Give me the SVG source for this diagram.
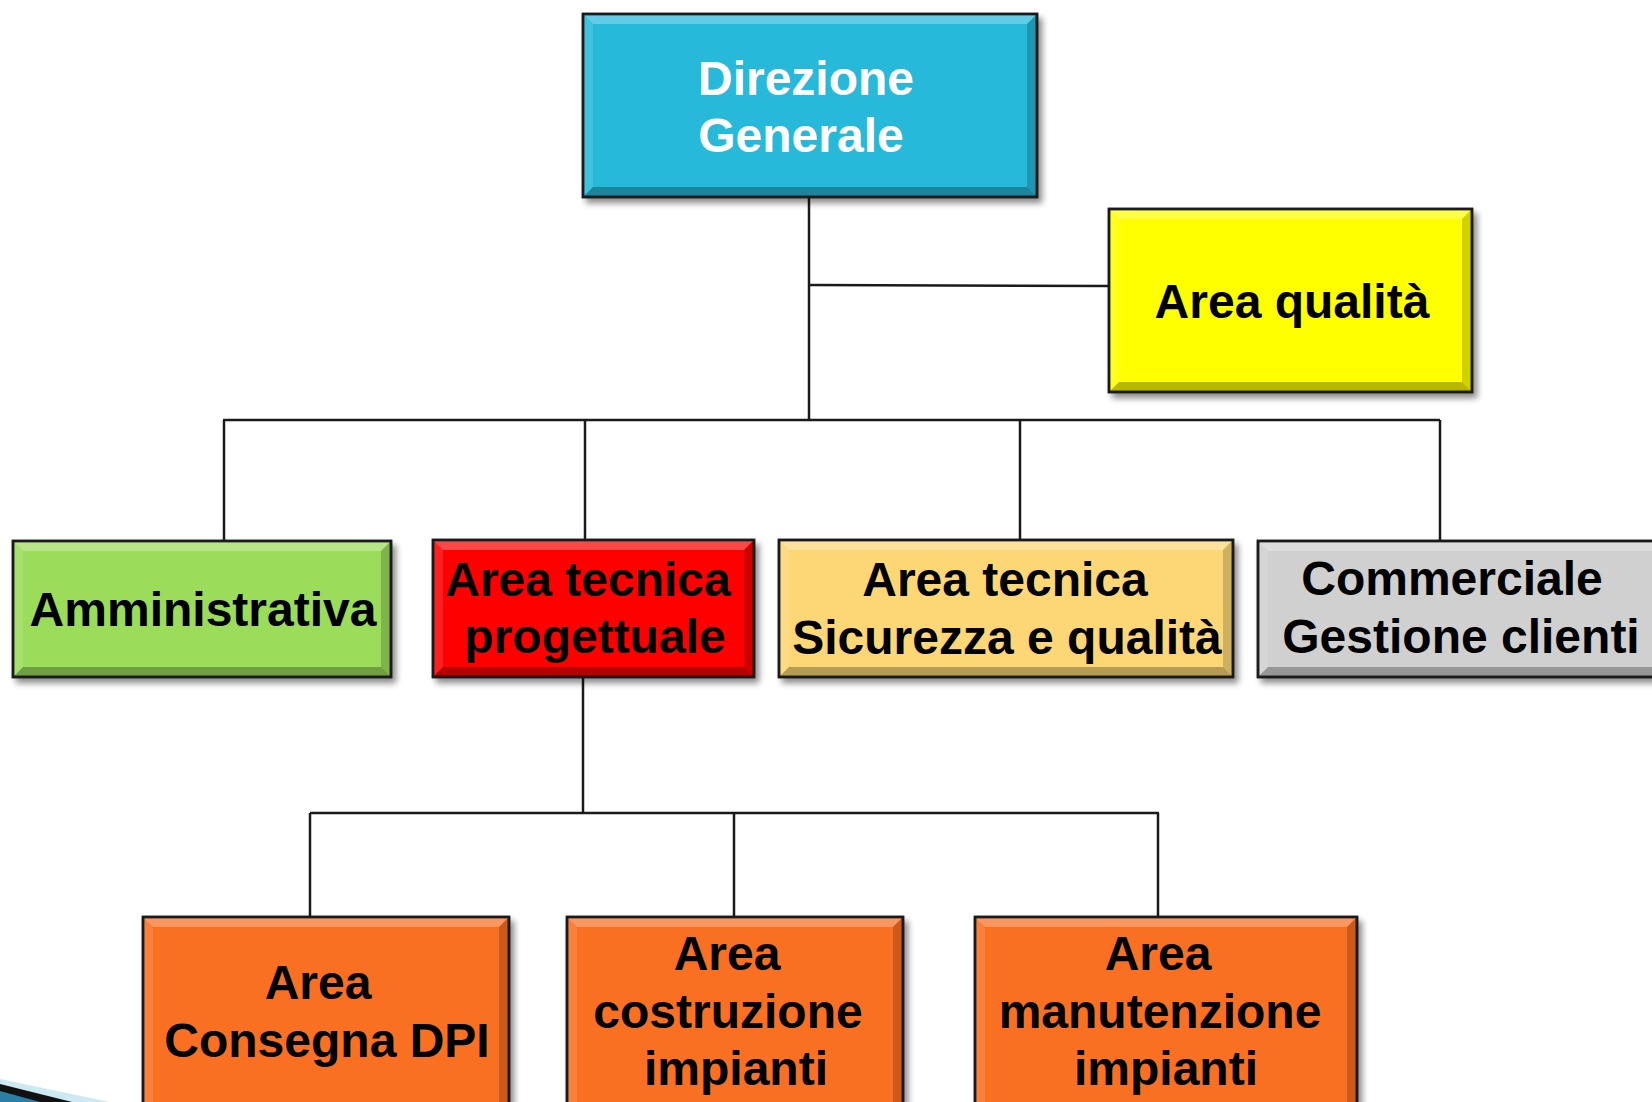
<svg xmlns="http://www.w3.org/2000/svg" width="1652" height="1102" viewBox="0 0 1652 1102">
<defs>
<filter id="sh" x="-10%" y="-10%" width="125%" height="130%">
<feGaussianBlur in="SourceAlpha" stdDeviation="3"/>
<feOffset dx="4" dy="5" result="b"/>
<feComponentTransfer><feFuncA type="linear" slope="0.45"/></feComponentTransfer>
<feMerge><feMergeNode/><feMergeNode in="SourceGraphic"/></feMerge>
</filter>
</defs>
<style>
.box{stroke:#1a1a1a;stroke-width:2.5;filter:url(#sh)}
.hi{fill:#ffffff;fill-opacity:0.28}
.hl{fill:#ffffff;fill-opacity:0.12}
.lo{fill:#000000;fill-opacity:0.28}
.lr{fill:#000000;fill-opacity:0.18}
.frame{fill:none;stroke:#1a1a1a;stroke-width:2.5}
text{font-family:"Liberation Sans",Arial,sans-serif;font-weight:bold;font-size:48px;text-anchor:middle;fill:#000}
.w{fill:#ffffff}
.conn line{stroke:#1a1a1a;stroke-width:2.5}
</style>
<rect width="1652" height="1102" fill="#ffffff"/>

<g class="conn" id="connectors">
<line x1="809" y1="197" x2="809" y2="420"/>
<line x1="809" y1="285" x2="1109" y2="286"/>
<line x1="223" y1="420" x2="1440" y2="420"/>
<line x1="224" y1="420" x2="224" y2="541"/>
<line x1="585" y1="420" x2="585" y2="540"/>
<line x1="1020" y1="420" x2="1020" y2="540"/>
<line x1="1440" y1="420" x2="1440" y2="541"/>
<line x1="583" y1="677" x2="583" y2="813"/>
<line x1="310" y1="813" x2="1159" y2="813"/>
<line x1="310" y1="813" x2="310" y2="917"/>
<line x1="734" y1="813" x2="734" y2="917"/>
<line x1="1158" y1="813" x2="1158" y2="917"/>
</g>

<g id="direzione">
<rect class="box" x="583" y="14" width="454" height="183" fill="#25B9DA"/>
<polygon class="hi" points="583,14 1037,14 1027,24 593,24"/>
<polygon class="hl" points="583,14 593,24 593,187 583,197"/>
<polygon class="lo" points="583,197 1037,197 1027,187 593,187"/>
<polygon class="lr" points="1037,14 1037,197 1027,187 1027,24"/>
<rect class="frame" x="583" y="14" width="454" height="183"/>
<text class="w" x="806" y="95">Direzione</text>
<text class="w" x="801" y="152">Generale</text>
</g>

<g id="qualita">
<rect class="box" x="1109" y="209" width="363" height="183" fill="#FFFF00"/>
<polygon class="hi" points="1109,209 1472,209 1462,219 1119,219"/>
<polygon class="hl" points="1109,209 1119,219 1119,382 1109,392"/>
<polygon class="lo" points="1109,392 1472,392 1462,382 1119,382"/>
<polygon class="lr" points="1472,209 1472,392 1462,382 1462,219"/>
<rect class="frame" x="1109" y="209" width="363" height="183"/>
<text x="1292" y="318">Area qualità</text>
</g>

<g id="amministrativa">
<rect class="box" x="13" y="541" width="378" height="136" fill="#9BDC5A"/>
<polygon class="hi" points="13,541 391,541 381,551 23,551"/>
<polygon class="hl" points="13,541 23,551 23,667 13,677"/>
<polygon class="lo" points="13,677 391,677 381,667 23,667"/>
<polygon class="lr" points="391,541 391,677 381,667 381,551"/>
<rect class="frame" x="13" y="541" width="378" height="136"/>
<text x="203" y="626">Amministrativa</text>
</g>

<g id="progettuale">
<rect class="box" x="433" y="540" width="321" height="137" fill="#FE0000"/>
<polygon class="hi" points="433,540 754,540 744,550 443,550"/>
<polygon class="hl" points="433,540 443,550 443,667 433,677"/>
<polygon class="lo" points="433,677 754,677 744,667 443,667"/>
<polygon class="lr" points="754,540 754,677 744,667 744,550"/>
<rect class="frame" x="433" y="540" width="321" height="137"/>
<text x="588" y="596">Area tecnica</text>
<text x="595" y="653">progettuale</text>
</g>

<g id="sicurezza">
<rect class="box" x="779" y="540" width="454" height="137" fill="#FDD774"/>
<polygon class="hi" points="779,540 1233,540 1223,550 789,550"/>
<polygon class="hl" points="779,540 789,550 789,667 779,677"/>
<polygon class="lo" points="779,677 1233,677 1223,667 789,667"/>
<polygon class="lr" points="1233,540 1233,677 1223,667 1223,550"/>
<rect class="frame" x="779" y="540" width="454" height="137"/>
<text x="1005" y="596">Area tecnica</text>
<text x="1007" y="654">Sicurezza e qualità</text>
</g>

<g id="commerciale">
<rect class="box" x="1258" y="541" width="420" height="136" fill="#D0D0D0"/>
<polygon class="hi" points="1258,541 1678,541 1668,551 1268,551"/>
<polygon class="hl" points="1258,541 1268,551 1268,667 1258,677"/>
<polygon class="lo" points="1258,677 1678,677 1668,667 1268,667"/>
<rect class="frame" x="1258" y="541" width="420" height="136"/>
<text x="1452" y="595">Commerciale</text>
<text x="1461" y="653">Gestione clienti</text>
</g>

<g id="consegna">
<rect class="box" x="143" y="917" width="366" height="200" fill="#F96F22"/>
<polygon class="hi" points="143,917 509,917 499,927 153,927"/>
<polygon class="hl" points="143,917 153,927 153,1117 143,1117"/>
<polygon class="lr" points="509,917 509,1117 499,1117 499,927"/>
<rect class="frame" x="143" y="917" width="366" height="200"/>
<text x="318" y="999">Area</text>
<text x="327" y="1057">Consegna DPI</text>
</g>

<g id="costruzione">
<rect class="box" x="567" y="917" width="336" height="200" fill="#F96F22"/>
<polygon class="hi" points="567,917 903,917 893,927 577,927"/>
<polygon class="hl" points="567,917 577,927 577,1117 567,1117"/>
<polygon class="lr" points="903,917 903,1117 893,1117 893,927"/>
<rect class="frame" x="567" y="917" width="336" height="200"/>
<text x="727" y="970">Area</text>
<text x="728" y="1028">costruzione</text>
<text x="736" y="1085">impianti</text>
</g>

<g id="manutenzione">
<rect class="box" x="975" y="917" width="382" height="200" fill="#F96F22"/>
<polygon class="hi" points="975,917 1357,917 1347,927 985,927"/>
<polygon class="hl" points="975,917 985,927 985,1117 975,1117"/>
<polygon class="lr" points="1357,917 1357,1117 1347,1117 1347,927"/>
<rect class="frame" x="975" y="917" width="382" height="200"/>
<text x="1158" y="970">Area</text>
<text x="1160" y="1028">manutenzione</text>
<text x="1166" y="1085">impianti</text>
</g>

<path d="M0,1079 L110,1102 L0,1102 Z" fill="#CDE9F2"/>
<path d="M0,1084 L72,1102 L0,1102 Z" fill="#111"/>
<path d="M0,1091 L40,1102 L0,1102 Z" fill="#2B7FA6"/>
</svg>
